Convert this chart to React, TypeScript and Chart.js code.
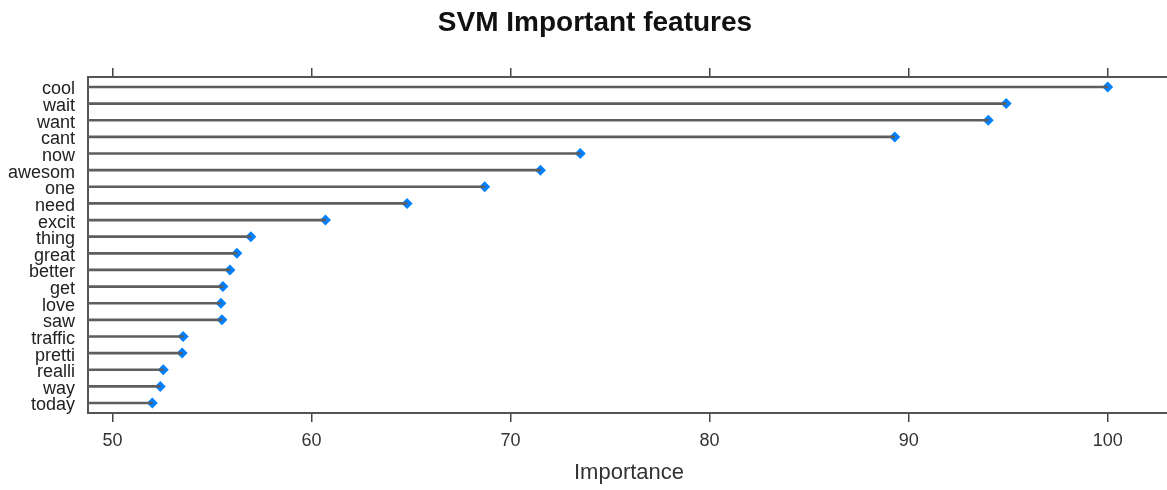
import React, { useEffect, useRef } from "react";
import { Chart, registerables } from "chart.js";

Chart.register(...registerables);

const chartTitle = "SVM Important features";
const axisTitle = "Importance";
const features = ["cool", "wait", "want", "cant", "now", "awesom", "one", "need", "excit", "thing", "great", "better", "get", "love", "saw", "traffic", "pretti", "realli", "way", "today"];
const importance = [100, 94.9, 94.0, 89.3, 73.5, 71.5, 68.7, 64.8, 60.7, 56.95, 56.25, 55.9, 55.55, 55.45, 55.5, 53.55, 53.5, 52.55, 52.4, 52.0];
const xTicks = [50, 60, 70, 80, 90, 100];
const X_MIN = 48.77;
const X_MAX = 103.13;

const FONT = "'Liberation Sans', Arial, Helvetica, sans-serif";

const boxPlugin = {
  id: "box",
  beforeDatasetsDraw(chart: any) {
    const { ctx, chartArea } = chart;
    ctx.save();
    ctx.strokeStyle = "#555";
    ctx.lineWidth = 2;
    ctx.strokeRect(chartArea.left, chartArea.top, chartArea.right - chartArea.left, chartArea.bottom - chartArea.top);
    ctx.restore();
  },
};

export default function App() {
  const ref = useRef<HTMLCanvasElement | null>(null);
  useEffect(() => {
    if (!ref.current) return;
    const tickFn = (scale: any) => {
      scale.ticks = xTicks.map((v) => ({ value: v }));
    };
    const chart = new Chart(ref.current, {
      type: "bar",
      data: {
        datasets: [
          {
            type: "bar",
            indexAxis: "y",
            xAxisID: "x",
            yAxisID: "y",
            data: importance.map((v, i) => ({ y: i, x: [X_MIN, v] })),
            backgroundColor: "#5e5e5e",
            borderWidth: 0,
            barThickness: 2,
          } as any,
          {
            type: "scatter",
            xAxisID: "x",
            yAxisID: "y",
            data: importance.map((v, i) => ({ x: v, y: i })),
            pointStyle: "rectRot",
            pointRadius: 5.5,
            pointBackgroundColor: "#0080ff",
            pointBorderColor: "#0080ff",
            pointBorderWidth: 0,
          } as any,
        ],
      },
      options: {
        responsive: false,
        animation: false,
        devicePixelRatio: 1,
        layout: { padding: { left: 0, right: 0, top: 0, bottom: 0 } },
        plugins: {
          legend: { display: false },
          tooltip: { enabled: false },
          title: {
            display: true,
            text: chartTitle,
            color: "#111",
            font: { family: FONT, size: 28, weight: "bold" },
            padding: { top: 6, bottom: 0 },
          },
        },
        scales: {
          x: {
            type: "linear",
            position: "bottom",
            min: X_MIN,
            max: X_MAX,
            offset: false,
            afterBuildTicks: tickFn,
            afterFit: (s: any) => { s.height = 77; },
            grid: { offset: false, drawOnChartArea: false, drawTicks: true, tickLength: 9, color: "#444", lineWidth: 1.5 },
            border: { display: false },
            ticks: { color: "#333", font: { family: FONT, size: 18 }, padding: 8, maxRotation: 0 },
            title: { display: true, text: axisTitle, color: "#333", font: { family: FONT, size: 22 }, padding: { top: 0, bottom: 3.5 } },
          },
          x2: {
            type: "linear",
            position: "top",
            min: X_MIN,
            max: X_MAX,
            offset: false,
            afterBuildTicks: tickFn,
            afterFit: (s: any) => { s.height = 37.4; },
            grid: { offset: false, drawOnChartArea: false, drawTicks: true, tickLength: 9, color: "#444", lineWidth: 1.5 },
            border: { display: false },
            ticks: { display: false },
          },
          y: {
            type: "linear",
            position: "left",
            reverse: true,
            min: -0.6,
            max: 19.6,
            offset: false,
            afterBuildTicks: (s: any) => { s.ticks = features.map((_, i) => ({ value: i })); },
            afterFit: (s: any) => { s.width = 88; },
            grid: { offset: false, display: false, drawTicks: false },
            border: { display: false },
            ticks: {
              autoSkip: false,
              padding: 13,
              labelOffset: 2.5,
              color: "#222",
              font: { family: FONT, size: 18 },
              callback: (v: any) => features[v] ?? "",
            },
          },
          yR: {
            type: "linear",
            position: "right",
            display: true,
            afterFit: (s: any) => { s.width = 20; },
            grid: { display: false, drawTicks: false },
            border: { display: false },
            ticks: { display: false },
          },
        },
      } as any,
      plugins: [boxPlugin],
    });
    return () => chart.destroy();
  }, []);
  return (
    <div style={{ position: "absolute", left: 0, top: 0, width: 1167, height: 490, overflow: "hidden", background: "#fff" }}>
      <canvas ref={ref} width={1190} height={490} style={{ width: 1190, height: 490, display: "block" }} />
    </div>
  );
}
